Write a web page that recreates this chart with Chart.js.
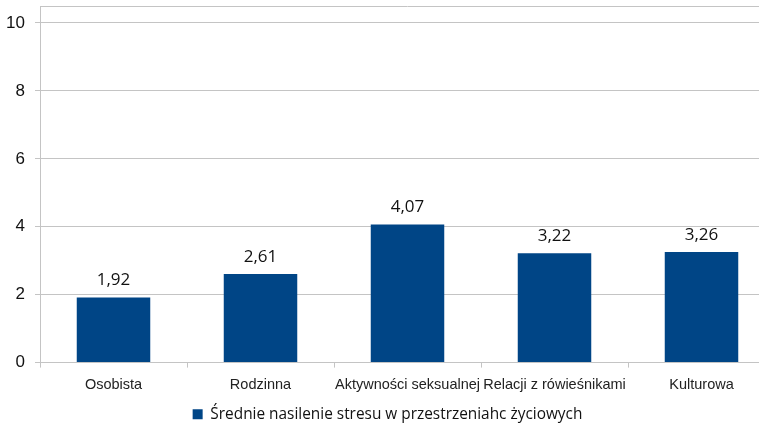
<!DOCTYPE html>
<html>
<head>
<meta charset="utf-8">
<script src="https://cdn.jsdelivr.net/npm/chart.js@4/dist/chart.umd.min.js"></script>
<style>
  html, body { margin: 0; padding: 0; background: #fff; overflow: hidden; }
  #wykres { display: block; }
</style>
</head>
<body>
<canvas id="wykres" width="775" height="428"></canvas>
<script>
// DANE
const przestrzenie = ['Osobista', 'Rodzinna', 'Aktywności seksualnej', 'Relacji z rówieśnikami', 'Kulturowa'];
const nasilenie = [1.92, 2.61, 4.07, 3.22, 3.26];
const podzialkaY = [0, 2, 4, 6, 8, 10];
const nazwaSerii = 'Średnie nasilenie stresu w przestrzeniahc życiowych';

const KOLOR_SLUPKA = '#004586';
const KOLOR_SIATKI = '#c4c4c4';

// etykiety wartosci nad slupkami (z przecinkiem)
const etykietyWartosci = {
  id: 'etykietyWartosci',
  afterDatasetsDraw(chart) {
    const ctx = chart.ctx;
    const meta = chart.getDatasetMeta(0);
    ctx.save();
    ctx.font = '17px "Open Sans", sans-serif';
    ctx.fillStyle = '#111';
    ctx.textAlign = 'center';
    ctx.textBaseline = 'alphabetic';
    meta.data.forEach(function (bar, i) {
      const tekst = nasilenie[i].toFixed(2).replace('.', ',');
      ctx.fillText(tekst, bar.x, bar.y - 12);
    });
    ctx.restore();
  }
};

// gorna krawedz obszaru wykresu
const ramka = {
  id: 'ramka',
  beforeDatasetsDraw(chart) {
    const a = chart.chartArea;
    const ctx = chart.ctx;
    ctx.save();
    ctx.strokeStyle = KOLOR_SIATKI;
    ctx.lineWidth = 1;
    ctx.beginPath();
    ctx.moveTo(a.left, Math.round(a.top) + 0.5);
    ctx.lineTo(a.right, Math.round(a.top) + 0.5);
    ctx.stroke();
    ctx.restore();
  }
};

new Chart(document.getElementById('wykres'), {
  type: 'bar',
  data: {
    labels: przestrzenie,
    datasets: [{
      label: nazwaSerii,
      data: nasilenie,
      backgroundColor: KOLOR_SLUPKA,
      borderWidth: 0,
      barPercentage: 0.5,
      categoryPercentage: 1.0
    }]
  },
  options: {
    responsive: false,
    animation: false,
    layout: { padding: { top: 6, left: 0, right: 0, bottom: -4 } },
    plugins: {
      tooltip: { enabled: false },
      legend: {
        position: 'bottom',
        labels: {
          boxWidth: 10,
          boxHeight: 10,
          padding: 4,
          color: '#111',
          font: { family: '"Open Sans", sans-serif', size: 15.4 }
        }
      }
    },
    scales: {
      x: {
        grid: {
          offset: true,
          drawOnChartArea: false,
          color: KOLOR_SIATKI,
          tickLength: 5
        },
        border: { color: KOLOR_SIATKI },
        ticks: {
          color: '#222',
          padding: 9,
          maxRotation: 0,
          autoSkip: false,
          font: { family: '"Liberation Sans", Arial, sans-serif', size: 14.5 }
        },
        afterFit(scale) { scale.height = 40; }
      },
      y: {
        min: 0,
        max: 10.5,
        afterBuildTicks(scale) {
          scale.ticks = podzialkaY.map(v => ({ value: v }));
        },
        grid: { color: KOLOR_SIATKI, tickLength: 5 },
        border: { color: KOLOR_SIATKI },
        ticks: {
          color: '#111',
          padding: 10,
          font: { family: '"Liberation Sans", Arial, sans-serif', size: 17 }
        },
        afterFit(scale) {
          scale.width = 40;
          scale.paddingTop = 0;
          scale.paddingBottom = 0;
        }
      }
    }
  },
  plugins: [etykietyWartosci, ramka]
});
</script>
</body>
</html>
